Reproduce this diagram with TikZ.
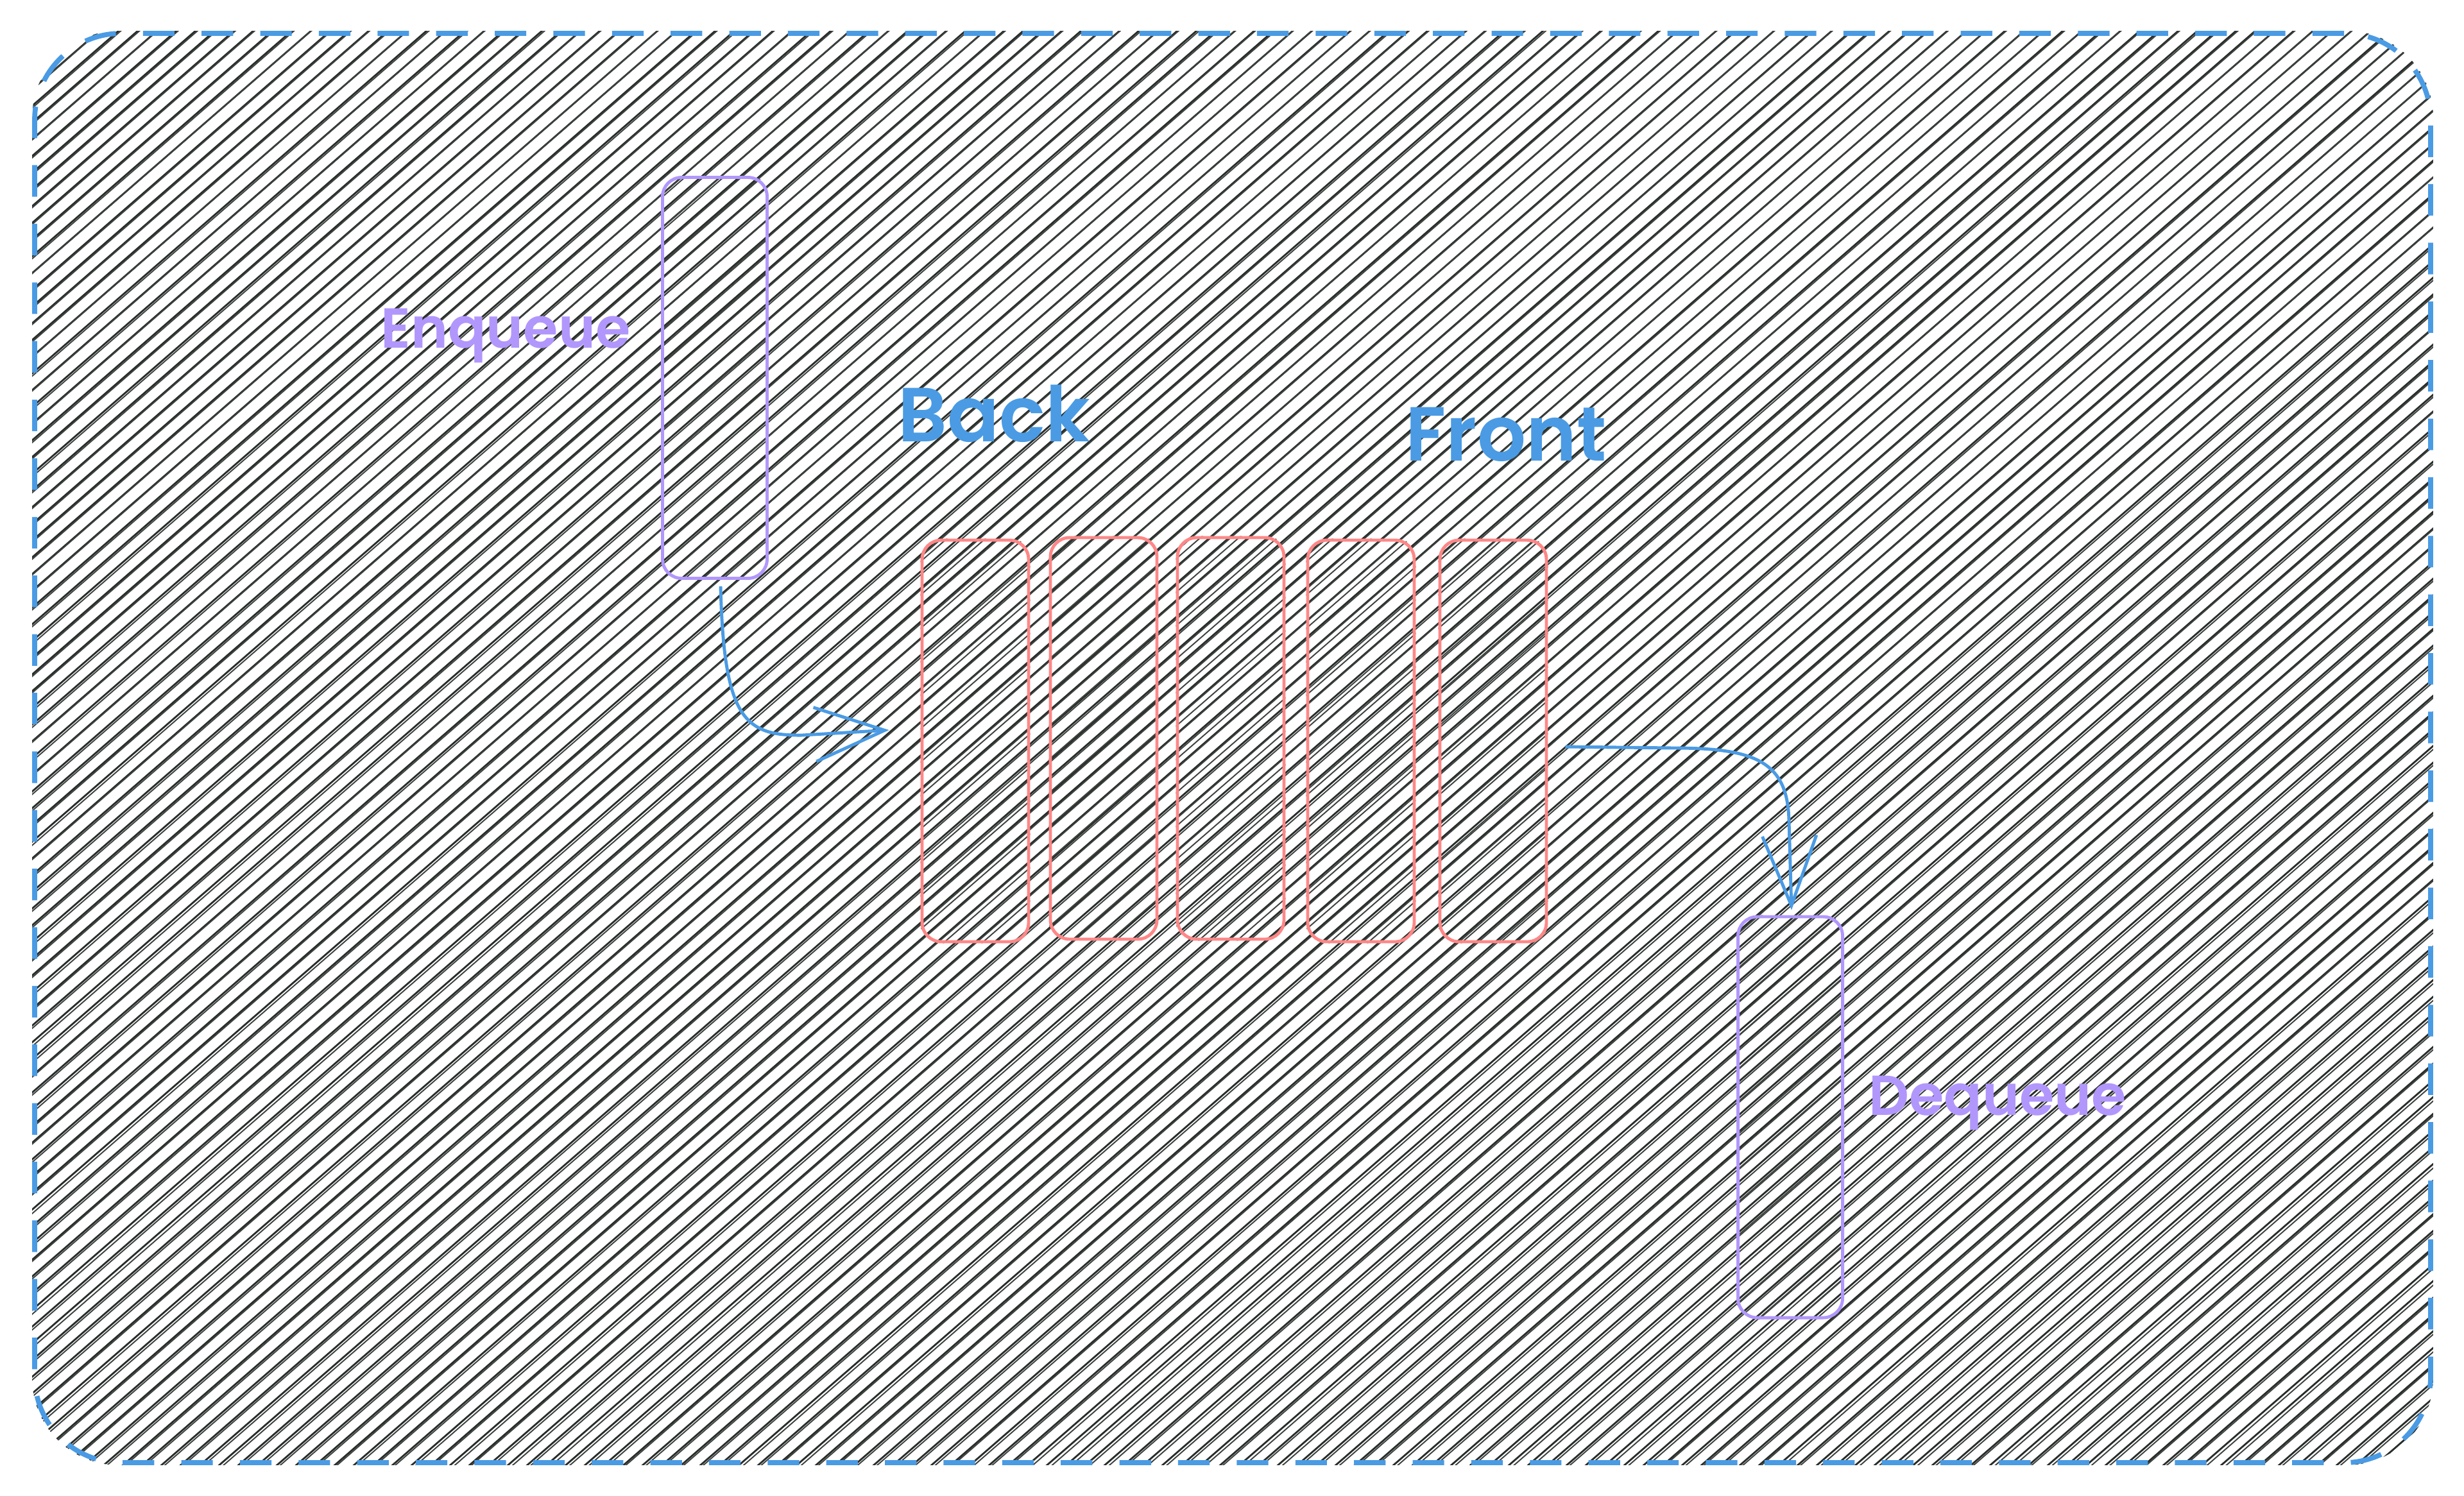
\documentclass[tikz,border=0pt]{standalone}
\usepackage{fontspec}
\setmainfont{Poppins}[BoldFont={Poppins SemiBold}]
\usetikzlibrary{arrows.meta, backgrounds}
\definecolor{queueBlue}{RGB}{74, 155, 228}
\definecolor{queueRed}{RGB}{255, 135, 135}
\definecolor{queuePurple}{RGB}{177, 151, 252}
\definecolor{hatchGray}{RGB}{40, 45, 42}

\tikzset{
  hatch/.style={hatchGray, line width=0.8pt},
  hatchthin/.style={hatchGray!90, line width=0.55pt},
  board/.style={draw=queueBlue, line width=2.2pt, dash pattern=on 14pt off 12pt,
    rounded corners=1.35cm, minimum width=37.34cm, minimum height=22.28cm, inner sep=0pt},
  slot/.style={draw=queueRed, line width=1.4pt, rounded corners=0.3cm,
    minimum width=1.66cm, minimum height=6.26cm, inner sep=0pt},
  endbox/.style={draw=queuePurple, line width=1.4pt, rounded corners=0.3cm,
    minimum width=1.63cm, minimum height=6.25cm, inner sep=0pt},
  flow/.style={queueBlue, line width=1.4pt, -{Straight Barb[length=31pt,width=24pt,line width=1.4pt]}},
  oplabel/.style={text=queuePurple, font=\fontsize{25}{30}\selectfont\bfseries, inner sep=0pt, anchor=base},
  endlabel/.style={text=queueBlue, font=\fontsize{34}{40}\selectfont\bfseries, inner sep=0pt, anchor=base},
}

% hatch lines inside a box node
\newcommand{\hatchin}[1]{%
  \begin{scope}
    \clip[rounded corners=0.3cm] (#1.south west) rectangle (#1.north east);
    \foreach \d in {-7.45,-6.85,...,2}
      \draw[hatchthin] ([xshift=\d cm]#1.south west) -- ++(8.0,-6.95);
  \end{scope}}

\begin{document}
\begin{tikzpicture}[y=-1cm]
  \useasboundingbox (0,0) rectangle (38.4,23.31);
  \pgfmathsetseed{7}

  \node[board] (frame) at (19.21,11.66) {};

  % queue slots
  \node[slot] (c1) at (15.20,11.55) {};
  \node[slot] (c2) at (17.20,11.51) {};
  \node[slot] (c3) at (19.18,11.51) {};
  \node[slot] (c4) at (21.21,11.55) {};
  \node[slot] (c5) at (23.27,11.55) {};

  \node[endbox] (enq) at (11.14,5.89) {};
  \node[endbox] (deq) at (27.90,17.415) {};

  \begin{scope}[on background layer]
    \clip[rounded corners=1.35cm] (frame.south west) rectangle (frame.north east);
    \foreach \x [evaluate=\x as \xb using {\x+0.06+0.025*rand}] in {-27,-26.7,...,38.4} {
      \draw[hatch] (\x,23.2) -- ++(26.7,-23.2);
      \draw[hatchthin] (\xb,23.2) -- ++(26.6,-23.15);
    }
    \foreach \n in {c1,c2,c3,c4,c5,enq,deq} {\hatchin{\n}}
  \end{scope}

  \node[oplabel] (enqtext) at (7.88,5.42) {Enqueue};
  \node[oplabel] (deqtext) at (31.13,17.38) {Dequeue};
  \node[endlabel] (backtext) at (15.49,6.88) {Back};
  \node[endlabel] (fronttext) at (23.47,7.18) {Front};

  \draw[flow] ([xshift=0.09cm,yshift=-0.1cm]enq.south)
    .. controls (11.28,11.2) and (11.6,11.47) .. (12.5,11.46)
    -- ([xshift=-0.49cm,yshift=0.17cm]c1.west);
  \draw[flow] ([xshift=0.27cm,yshift=-0.09cm]c5.east) -- (26.1,11.66)
    .. controls (27.4,11.66) and (27.86,11.9) .. (27.88,12.8)
    -- ([xshift=0.02cm,yshift=0.08cm]deq.north);
\end{tikzpicture}
\end{document}
